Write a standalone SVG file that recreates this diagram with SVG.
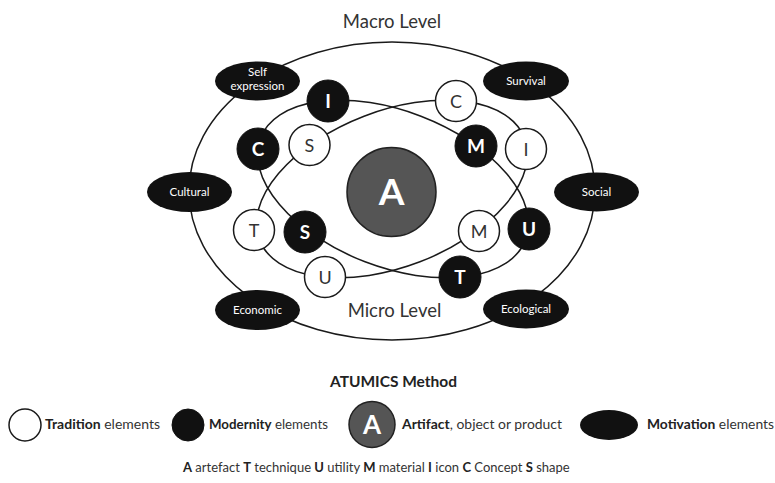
<svg xmlns="http://www.w3.org/2000/svg" width="775" height="483" viewBox="0 0 775 483">
<style>
  text { font-family: Lato, "Open Sans", "Liberation Sans", sans-serif; }
  .ring { fill: none; stroke: #1a1a1a; stroke-width: 1.5; }
  .trad { fill: #ffffff; stroke: #1a1a1a; stroke-width: 1.5; }
  .mod { fill: #111111; stroke: #111111; stroke-width: 1; }
  .mot { fill: #111111; }
  .art { fill: #555555; stroke: #222222; stroke-width: 1.5; }
  .tl { font-size: 18px; fill: #333333; text-anchor: middle; }
  .ml { font-size: 19px; font-weight: bold; fill: #ffffff; text-anchor: middle; }
  .motl { font-size: 11.5px; fill: #ffffff; text-anchor: middle; }
  .lvl { font-size: 18.5px; fill: #333333; text-anchor: middle; }
  .leg { font-size: 13.5px; fill: #333333; }
  .key { font-size: 13px; fill: #333333; }
  .b { font-weight: bold; fill: #222222; }
</style>
<rect width="775" height="483" fill="#ffffff"/>

<g id="connectors">
  <ellipse class="ring" cx="392" cy="191" rx="203" ry="149"/>
  <ellipse class="ring" cx="393" cy="189" rx="142" ry="78" transform="rotate(21 393 189)"/>
  <ellipse class="ring" cx="392" cy="189" rx="142" ry="78" transform="rotate(-21 392 189)"/>
</g>

<text class="lvl" x="392" y="28">Macro Level</text>
<text class="lvl" x="394.5" y="317">Micro Level</text>

<g id="artifact">
  <circle class="art" cx="391.5" cy="192" r="44.5"/>
  <text x="391.5" y="205" font-size="37" font-weight="bold" fill="#ffffff" text-anchor="middle">A</text>
</g>

<g id="mod-I"><circle class="mod" cx="328" cy="101" r="21"/><text class="ml" x="328" y="108">I</text></g>
<g id="mod-C"><circle class="mod" cx="258" cy="149" r="21"/><text class="ml" x="258" y="156">C</text></g>
<g id="mod-M"><circle class="mod" cx="476" cy="146" r="21"/><text class="ml" x="476" y="153">M</text></g>
<g id="mod-U"><circle class="mod" cx="529" cy="229" r="21"/><text class="ml" x="529" y="236">U</text></g>
<g id="mod-T"><circle class="mod" cx="460" cy="277" r="21"/><text class="ml" x="460" y="284">T</text></g>
<g id="mod-S"><circle class="mod" cx="305" cy="232" r="21"/><text class="ml" x="305" y="239">S</text></g>

<g id="trad-C"><circle class="trad" cx="456" cy="101" r="20.5"/><text class="tl" x="456" y="107.5">C</text></g>
<g id="trad-S"><circle class="trad" cx="309.5" cy="145" r="20.5"/><text class="tl" x="309.5" y="151.5">S</text></g>
<g id="trad-I"><circle class="trad" cx="526" cy="149" r="20.5"/><text class="tl" x="526" y="155.5">I</text></g>
<g id="trad-T"><circle class="trad" cx="254" cy="230" r="20.5"/><text class="tl" x="254" y="236.5">T</text></g>
<g id="trad-M"><circle class="trad" cx="479" cy="231" r="20.5"/><text class="tl" x="479" y="237.5">M</text></g>
<g id="trad-U"><circle class="trad" cx="325" cy="277" r="20.5"/><text class="tl" x="325" y="283.5">U</text></g>

<g id="mot-self"><ellipse class="mot" cx="257.5" cy="81" rx="42.5" ry="19.5"/><text class="motl" x="257.5" y="76">Self</text><text class="motl" x="257.5" y="89.5">expression</text></g>
<g id="mot-survival"><ellipse class="mot" cx="526" cy="81" rx="43" ry="19.5"/><text class="motl" x="526" y="85">Survival</text></g>
<g id="mot-cultural"><ellipse class="mot" cx="189.5" cy="192" rx="42.5" ry="20"/><text class="motl" x="189.5" y="196">Cultural</text></g>
<g id="mot-social"><ellipse class="mot" cx="596.5" cy="192" rx="42.5" ry="19.5"/><text class="motl" x="596.5" y="196">Social</text></g>
<g id="mot-economic"><ellipse class="mot" cx="257.5" cy="310" rx="42.5" ry="20"/><text class="motl" x="257.5" y="314">Economic</text></g>
<g id="mot-ecological"><ellipse class="mot" cx="526" cy="309" rx="43" ry="19.5"/><text class="motl" x="526" y="313">Ecological</text></g>

<g id="legend">
  <text x="393.5" y="387" font-size="15.5" font-weight="bold" fill="#222222" text-anchor="middle">ATUMICS Method</text>
  <circle class="trad" cx="25" cy="425" r="16"/>
  <text class="leg" x="45" y="429" textLength="115" lengthAdjust="spacingAndGlyphs"><tspan class="b">Tradition</tspan> elements</text>
  <circle class="mod" cx="188" cy="425" r="16"/>
  <text class="leg" x="209" y="429" textLength="119" lengthAdjust="spacingAndGlyphs"><tspan class="b">Modernity</tspan> elements</text>
  <circle class="art" cx="372" cy="424.5" r="23"/>
  <text x="372" y="434" font-size="26" font-weight="bold" fill="#ffffff" text-anchor="middle">A</text>
  <text class="leg" x="402" y="429" textLength="160" lengthAdjust="spacingAndGlyphs"><tspan class="b">Artifact</tspan>, object or product</text>
  <ellipse class="mot" cx="609" cy="425" rx="29" ry="15"/>
  <text class="leg" x="647" y="429" textLength="127" lengthAdjust="spacingAndGlyphs"><tspan class="b">Motivation</tspan> elements</text>
  <text class="key" x="183" y="472"><tspan class="b">A</tspan> artefact <tspan class="b">T</tspan> technique <tspan class="b">U</tspan> utility <tspan class="b">M</tspan> material <tspan class="b">I</tspan> icon <tspan class="b">C</tspan> Concept <tspan class="b">S</tspan> shape</text>
</g>
</svg>
